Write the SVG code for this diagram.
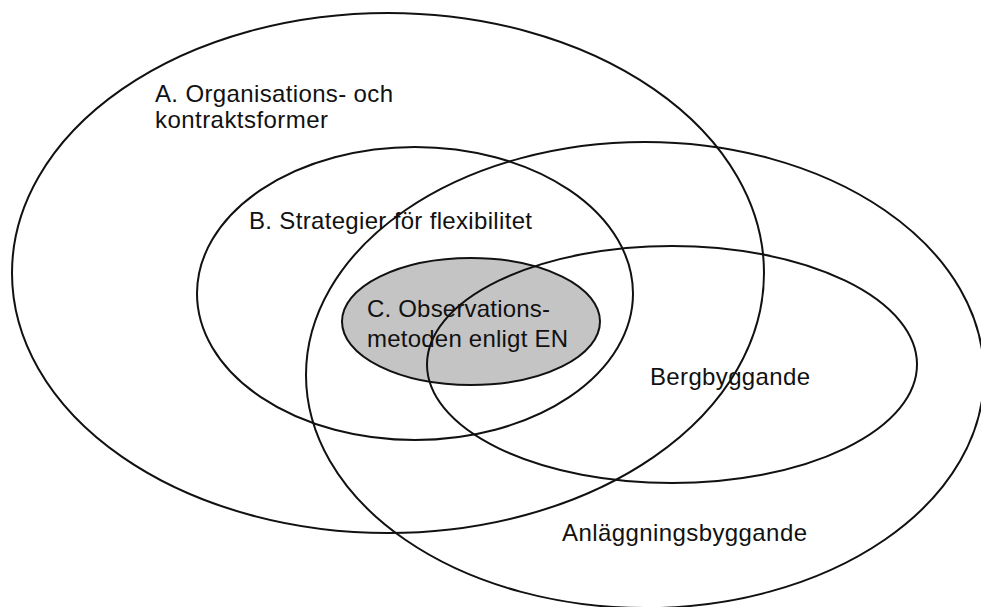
<svg xmlns="http://www.w3.org/2000/svg" width="981" height="607" viewBox="0 0 981 607">
<style>
.e{fill:none;stroke:#111;stroke-width:2}
.t{font-family:"Liberation Sans",Arial,sans-serif;font-size:24px;fill:#111}
</style>
<rect width="981" height="607" fill="#fff"/>
<g id="nodeC-fill"><ellipse cx="471" cy="321.5" rx="129" ry="63.5" fill="#c4c4c4"/></g>
<g id="nodeA"><ellipse class="e" cx="388" cy="273" rx="376" ry="260"/>
<text class="t" x="155" y="102" textLength="238" lengthAdjust="spacing">A. Organisations- och</text>
<text class="t" x="155" y="128" textLength="173" lengthAdjust="spacing">kontraktsformer</text></g>
<g id="nodeB"><ellipse class="e" cx="415" cy="293.5" rx="218" ry="146.5"/>
<text class="t" x="249" y="229" textLength="283" lengthAdjust="spacing">B. Strategier för flexibilitet</text></g>
<g id="nodeC"><ellipse class="e" cx="471" cy="321.5" rx="129" ry="63.5"/>
<text class="t" x="367" y="317" textLength="183" lengthAdjust="spacing">C. Observations-</text>
<text class="t" x="367" y="347" textLength="201" lengthAdjust="spacing">metoden enligt EN</text></g>
<g id="nodeAnl"><ellipse class="e" cx="645" cy="375" rx="339" ry="233"/>
<text class="t" x="562" y="541" textLength="245" lengthAdjust="spacing">Anläggningsbyggande</text></g>
<g id="nodeBerg"><ellipse class="e" cx="672" cy="364.5" rx="245" ry="118.5"/>
<text class="t" x="650" y="385" textLength="160" lengthAdjust="spacing">Bergbyggande</text></g>
<g id="connectors"></g>
</svg>
